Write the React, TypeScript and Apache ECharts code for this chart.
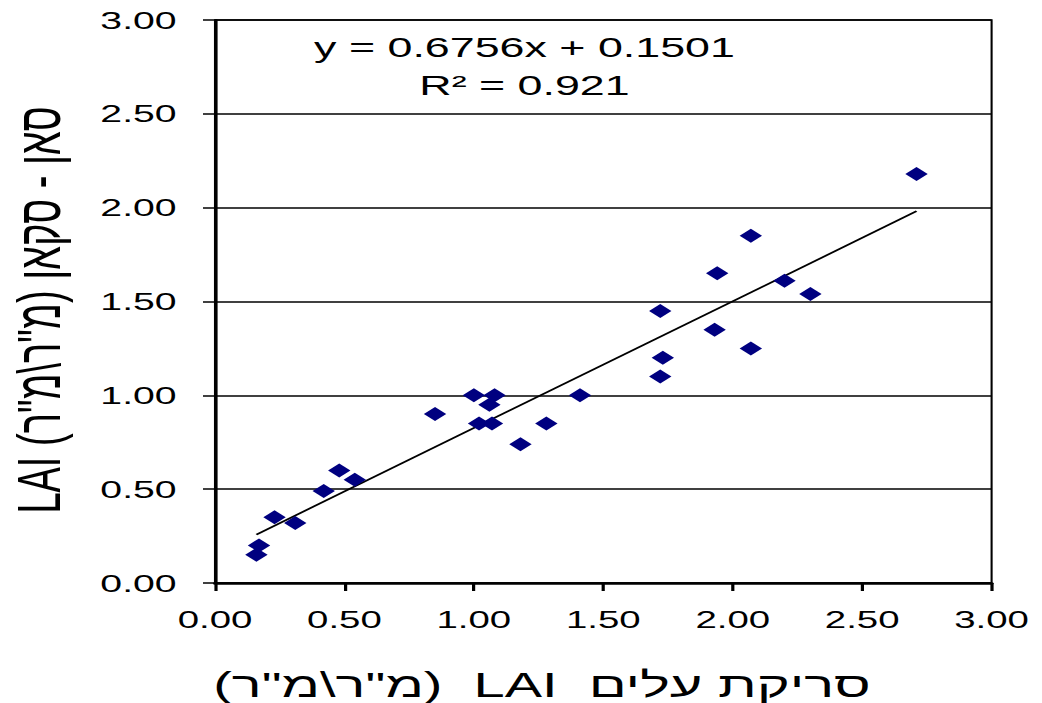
import React, { useEffect, useRef } from "react";
import * as echarts from "echarts";

// Leaf area index: leaf scan (x) vs SunScan (y)
const xValues = [0.16, 0.17, 0.23, 0.31, 0.42, 0.48, 0.54, 0.85, 1.0, 1.08, 1.06, 1.02, 1.07, 1.18, 1.28, 1.41, 2.71, 2.07, 1.94, 2.2, 2.3, 1.72, 1.93, 2.07, 1.73, 1.72];
const yValues = [0.15, 0.2, 0.35, 0.32, 0.49, 0.6, 0.55, 0.9, 1.0, 1.0, 0.95, 0.85, 0.85, 0.74, 0.85, 1.0, 2.18, 1.85, 1.65, 1.61, 1.54, 1.45, 1.35, 1.25, 1.2, 1.1];

// Linear trendline as reported on the chart
const slope = 0.6756;
const intercept = 0.1501;
const rSquared = 0.921;

const xAxisTitle = "\u202Bסריקת עלים  LAI  (מ\"ר\\מ\"ר)\u202C";
const yAxisTitle = "\u202Bסאן - סקאן (מ\"ר\\מ\"ר) LAI\u202C";
const equationText = `y = ${slope}x + ${intercept}`;
const r2Text = `R\u00B2 = ${rSquared}`;

const S = 1.6; // horizontal stretch of the original picture
const W = 1042 / S;
const H = 703;
const FONT = '"Liberation Sans", Arial, sans-serif';

export default function App() {
  const ref = useRef<HTMLDivElement>(null);
  useEffect(() => {
    const chart = echarts.init(ref.current!, null, { renderer: "svg" });
    const xMin = Math.min(...xValues);
    const xMax = Math.max(...xValues);
    chart.setOption({
      animation: false,
      grid: {
        left: 215 / S,
        right: 50 / S,
        top: 20,
        bottom: 120,
        show: true,
        borderColor: "#000",
        borderWidth: 1.3,
      },
      xAxis: {
        type: "value",
        min: 0,
        max: 3,
        interval: 0.5,
        axisLine: { show: true, onZero: false, lineStyle: { color: "#000", width: 2.5 } },
        axisTick: { show: true, length: 8, lineStyle: { color: "#000", width: 2 } },
        axisLabel: {
          color: "#000",
          fontFamily: FONT,
          fontSize: 24,
          margin: 25,
          formatter: (v: number) => v.toFixed(2),
        },
        splitLine: { show: false },
      },
      yAxis: {
        type: "value",
        min: 0,
        max: 3,
        interval: 0.5,
        axisLine: { show: true, onZero: false, lineStyle: { color: "#000", width: 2 } },
        axisTick: { show: true, length: 7.5, lineStyle: { color: "#000", width: 1.5 } },
        axisLabel: {
          color: "#000",
          fontFamily: FONT,
          fontSize: 24.5,
          margin: 24,
          formatter: (v: number) => v.toFixed(2),
        },
        splitLine: { show: true, lineStyle: { color: "#000", width: 1.5 } },
      },
      series: [
        {
          type: "line",
          data: [
            [xMin, slope * xMin + intercept],
            [xMax, slope * xMax + intercept],
          ],
          symbol: "none",
          lineStyle: { color: "#000", width: 1.6 },
          z: 2,
        },
        {
          type: "scatter",
          data: xValues.map((x, i) => [x, yValues[i]]),
          symbol: "diamond",
          symbolSize: [14, 14],
          itemStyle: { color: "#000080", opacity: 1 },
          z: 3,
        },
      ],
      graphic: [
        {
          type: "text",
          x: 524.5 / S,
          y: 47,
          style: { text: equationText, font: `28px ${FONT}`, fill: "#000", align: "center", verticalAlign: "middle" },
        },
        {
          type: "text",
          x: 524.5 / S,
          y: 85,
          style: { text: r2Text, font: `28px ${FONT}`, fill: "#000", align: "center", verticalAlign: "middle" },
        },
        {
          type: "text",
          x: 542 / S,
          y: 685,
          style: { text: xAxisTitle, font: `35px ${FONT}`, fill: "#000", align: "center", verticalAlign: "middle" },
        },
        {
          type: "text",
          x: 39 / S,
          y: 310,
          rotation: Math.PI / 2,
          style: { text: yAxisTitle, font: `38px ${FONT}`, fill: "#000", align: "center", verticalAlign: "middle" },
        },
      ],
    });
    return () => chart.dispose();
  }, []);
  return (
    <div
      style={{
        position: "fixed",
        left: 0,
        top: 0,
        width: W,
        height: H,
        transform: `scaleX(${S})`,
        transformOrigin: "0 0",
        background: "#fff",
      }}
    >
      <div ref={ref} style={{ width: W, height: H }} />
    </div>
  );
}
